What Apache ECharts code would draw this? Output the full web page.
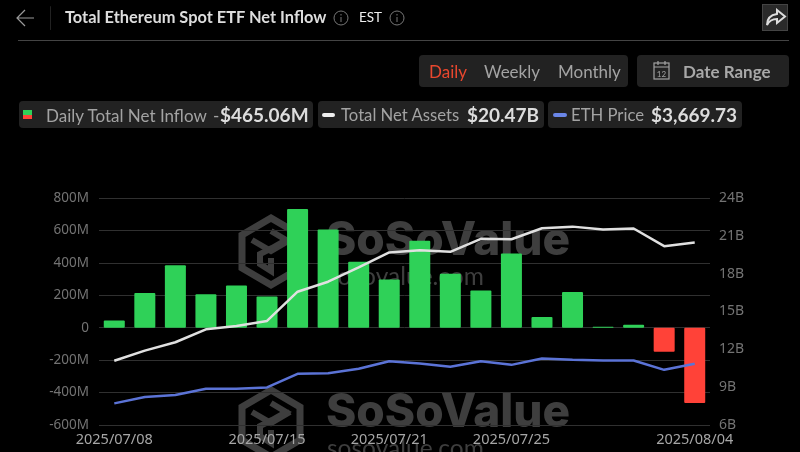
<!DOCTYPE html>
<html>
<head>
<meta charset="utf-8">
<script src="https://cdn.jsdelivr.net/npm/echarts@6/dist/echarts.min.js"></script>
<style>
html, body { margin: 0; padding: 0; background: #000; }
body { width: 800px; height: 452px; overflow: hidden; position: relative; font-family: Lato, sans-serif; }
#chart { position: absolute; left: 0; top: 0; width: 800px; height: 452px; }
.t { position: absolute; white-space: nowrap; }
.box { position: absolute; background: #222; border-radius: 4px; }
.b { font-weight: 700; color: #ddd; }
.g { color: #a3a3a3; }
</style>
</head>
<body>
<div id="chart"></div>

<!-- header -->
<svg class="t" style="left:16px;top:9px" width="20" height="18" viewBox="0 0 20 18"><path d="M18 9H1M9 1L1 9l8 8" fill="none" stroke="#9a9a9a" stroke-width="1.2"/></svg>
<div class="box" style="left:50px;top:6px;width:1px;height:24px;background:#222"></div>
<div class="t b" style="left:65px;top:7px;font-size:16.4px;color:#ddd">Total Ethereum Spot ETF Net Inflow</div>
<svg class="t" style="left:333px;top:10px" width="16" height="16"><circle cx="8" cy="8" r="7" fill="none" stroke="#777"/><path d="M8 7v5M8 4v1.5" stroke="#777"/></svg>
<div class="t" style="left:359px;top:9px;font-size:13.500px;color:#eee">EST</div>
<svg class="t" style="left:389px;top:10px" width="16" height="16"><circle cx="8" cy="8" r="7" fill="none" stroke="#777"/><path d="M8 7v5M8 4v1.5" stroke="#777"/></svg>
<div class="box" style="left:18px;top:40px;width:771px;height:1px;background:#444;border-radius:0"></div>
<div class="box" style="left:762px;top:4px;width:26px;height:27px;background:#2a2a2a;border:1px solid #444;border-radius:0;box-sizing:border-box"></div>
<svg class="t" style="left:765px;top:8px" width="22" height="20" viewBox="0 0 22 20"><path d="M12 2l8 6.500-8 6.500v-4C7 11 4 13 2 17c0-6 3-10 10-11z" fill="none" stroke="#ddd" stroke-width="2"/></svg>

<!-- period switch -->
<div class="box" style="left:419px;top:55px;width:209px;height:32px"></div>
<div class="t" style="left:429px;top:61px;font-size:17px;color:#e8472e">Daily</div>
<div class="t g" style="left:484px;top:61px;font-size:17px">Weekly</div>
<div class="t g" style="left:558px;top:61px;font-size:17px">Monthly</div>
<div class="box" style="left:637px;top:55px;width:152px;height:32px"></div>
<svg class="t" style="left:652px;top:60px" width="20" height="21" viewBox="0 0 20 21"><rect x="2" y="3" width="15" height="16" fill="none" stroke="#a3a3a3" stroke-width="1.200"/><path d="M2 7h15M6 1v4M13 1v4" stroke="#a3a3a3" stroke-width="1.200"/><text x="9.500" y="16.500" font-size="8" text-anchor="middle" fill="#a3a3a3" font-family="Lato">12</text></svg>
<div class="t b" style="left:683px;top:61px;font-size:17px;color:#a8a8a8">Date Range</div>

<!-- legend chips -->
<div class="box" style="left:19px;top:101px;width:294px;height:27px"></div>
<div class="box" style="left:23px;top:110px;width:9px;height:5px;background:#2fd158;border-radius:0"></div>
<div class="box" style="left:23px;top:115px;width:9px;height:4px;background:#ff4238;border-radius:0"></div>
<div class="t g" style="left:46px;top:105px;font-size:17px">Daily Total Net Inflow</div>
<div class="t g" style="left:213px;top:105px;font-size:17px">-</div>
<div class="t b" style="left:220px;top:103px;font-size:19px">$465.06M</div>
<div class="box" style="left:318px;top:101px;width:226px;height:27px"></div>
<div class="box" style="left:322px;top:113px;width:13px;height:4px;background:#eee;border-radius:2px"></div>
<div class="t g" style="left:341px;top:105px;font-size:16.700px">Total Net Assets</div>
<div class="t b" style="left:467px;top:103px;font-size:19px">$20.47B</div>
<div class="box" style="left:548px;top:101px;width:194px;height:27px"></div>
<div class="box" style="left:553px;top:113px;width:14px;height:4px;background:#6a86e8;border-radius:2px"></div>
<div class="t g" style="left:571px;top:105px;font-size:16.700px">ETH Price</div>
<div class="t b" style="left:651px;top:103px;font-size:19px">$3,669.73</div>

<script>
const dates = ['2025/07/08', '2025/07/09', '2025/07/10', '2025/07/11', '2025/07/14', '2025/07/15', '2025/07/16', '2025/07/17', '2025/07/18', '2025/07/21',
    '2025/07/22', '2025/07/23', '2025/07/24', '2025/07/25', '2025/07/28', '2025/07/29', '2025/07/30', '2025/07/31', '2025/08/01', '2025/08/04']
const shownDates = ['2025/07/08', '2025/07/15', '2025/07/21', '2025/07/25', '2025/08/04']
// million USD
const netInflow = [45, 214, 385, 206, 261, 193, 732, 605, 407, 298, 537, 333, 230, 457, 66, 220, 6, 18, -148, -465.06]
// billion USD
const netAssets = [11.09, 11.9, 12.56, 13.59, 13.85, 14.25, 16.57, 17.36, 18.5, 19.68, 19.86, 19.73, 20.76, 20.73, 21.6, 21.73, 21.5, 21.58, 20.18, 20.47]
const ethPrice = [2616, 2784, 2837, 3005, 3005, 3041, 3404, 3422, 3537, 3741, 3679, 3590, 3741, 3643, 3812, 3776, 3758, 3758, 3510, 3669.73]

const markColor = '#3e3e3e'

// watermark: logo + name + site, placed by the logo's top left corner
function watermark(x, y) {
    return {
        type: 'group',
        x: x,
        y: y,
        silent: true,
        z: -1,
        children: [
            {
                type: 'polygon',
                shape: { points: [[29, 0], [58, 17], [58, 50], [29, 67], [0, 50], [0, 17]] },
                style: { fill: 'none', stroke: markColor, lineWidth: 7 }
            },
            {
                type: 'polyline',
                shape: { points: [[10, 22], [29, 33], [48, 22]] },
                style: { fill: 'none', stroke: markColor, lineWidth: 6 }
            },
            {
                type: 'polyline',
                shape: { points: [[29, 13], [44, 22], [30, 30], [18, 36], [18, 46], [29, 53], [29, 40]] },
                style: { fill: 'none', stroke: markColor, lineWidth: 6 }
            },
            {
                type: 'text',
                x: 84,
                y: 0,
                style: { text: 'SoSoValue', fill: markColor, font: '800 46px Inter', letterSpacing: -1 }
            },
            {
                type: 'text',
                x: 85,
                y: 47,
                style: { text: 'sosovalue.com', fill: markColor, font: '24.5px Lato' }
            }
        ]
    }
}

const myChart = echarts.init(document.getElementById('chart'), null, { renderer: 'canvas' })
const options = {
    backgroundColor: 'transparent',
    animation: false,
    graphic: [watermark(242, 218), watermark(242, 390)],
    grid: {
        left: 99,
        right: 90,
        top: 198,
        bottom: 27,
        containLabel: false
    },
    xAxis: {
        type: 'category',
        data: dates,
        axisLine: { show: false },
        axisTick: { show: false },
        axisLabel: {
            color: '#a6a6a6',
            fontSize: 14.5,
            fontFamily: 'Noto Sans',
            margin: 7,
            verticalAlign: 'top',
            showMinLabel: true,
            showMaxLabel: true,
            hideOverlap: false,
            interval: (i, v) => shownDates.includes(v)
        }
    },
    yAxis: [
        {
            type: 'value',
            min: -600,
            max: 800,
            interval: 200,
            axisLine: { show: false },
            axisTick: { show: false },
            splitLine: { lineStyle: { color: '#303030', width: 1 } },
            axisLabel: {
                color: '#737373',
                fontSize: 13.5,
                fontFamily: 'Noto Sans',
                margin: 10,
                formatter: v => v === 0 ? '0' : v + 'M'
            }
        },
        {
            type: 'value',
            min: 6,
            max: 24,
            interval: 3,
            position: 'right',
            axisLine: { show: false },
            axisTick: { show: false },
            splitLine: { show: false },
            axisLabel: {
                color: '#737373',
                fontSize: 14,
                fontFamily: 'Noto Sans',
                margin: 9,
                formatter: v => v + 'B'
            }
        },
        {
            // price scale, not drawn
            type: 'value',
            min: 2040,
            max: 8090,
            show: false
        }
    ],
    series: [
        {
            name: 'Daily Total Net Inflow',
            type: 'bar',
            data: netInflow,
            barWidth: 21,
            itemStyle: {
                color: p => p.value < 0 ? '#ff4238' : '#2fd158',
                borderRadius: 1
            }
        },
        {
            name: 'Total Net Assets',
            type: 'line',
            yAxisIndex: 1,
            data: netAssets,
            showSymbol: false,
            lineStyle: { color: '#e0e0e0', width: 2.5 }
        },
        {
            name: 'ETH Price',
            type: 'line',
            yAxisIndex: 2,
            data: ethPrice,
            showSymbol: false,
            lineStyle: { color: '#5b73d6', width: 2.5 }
        }
    ]
}
myChart.setOption(options)
</script>
</body>
</html>
